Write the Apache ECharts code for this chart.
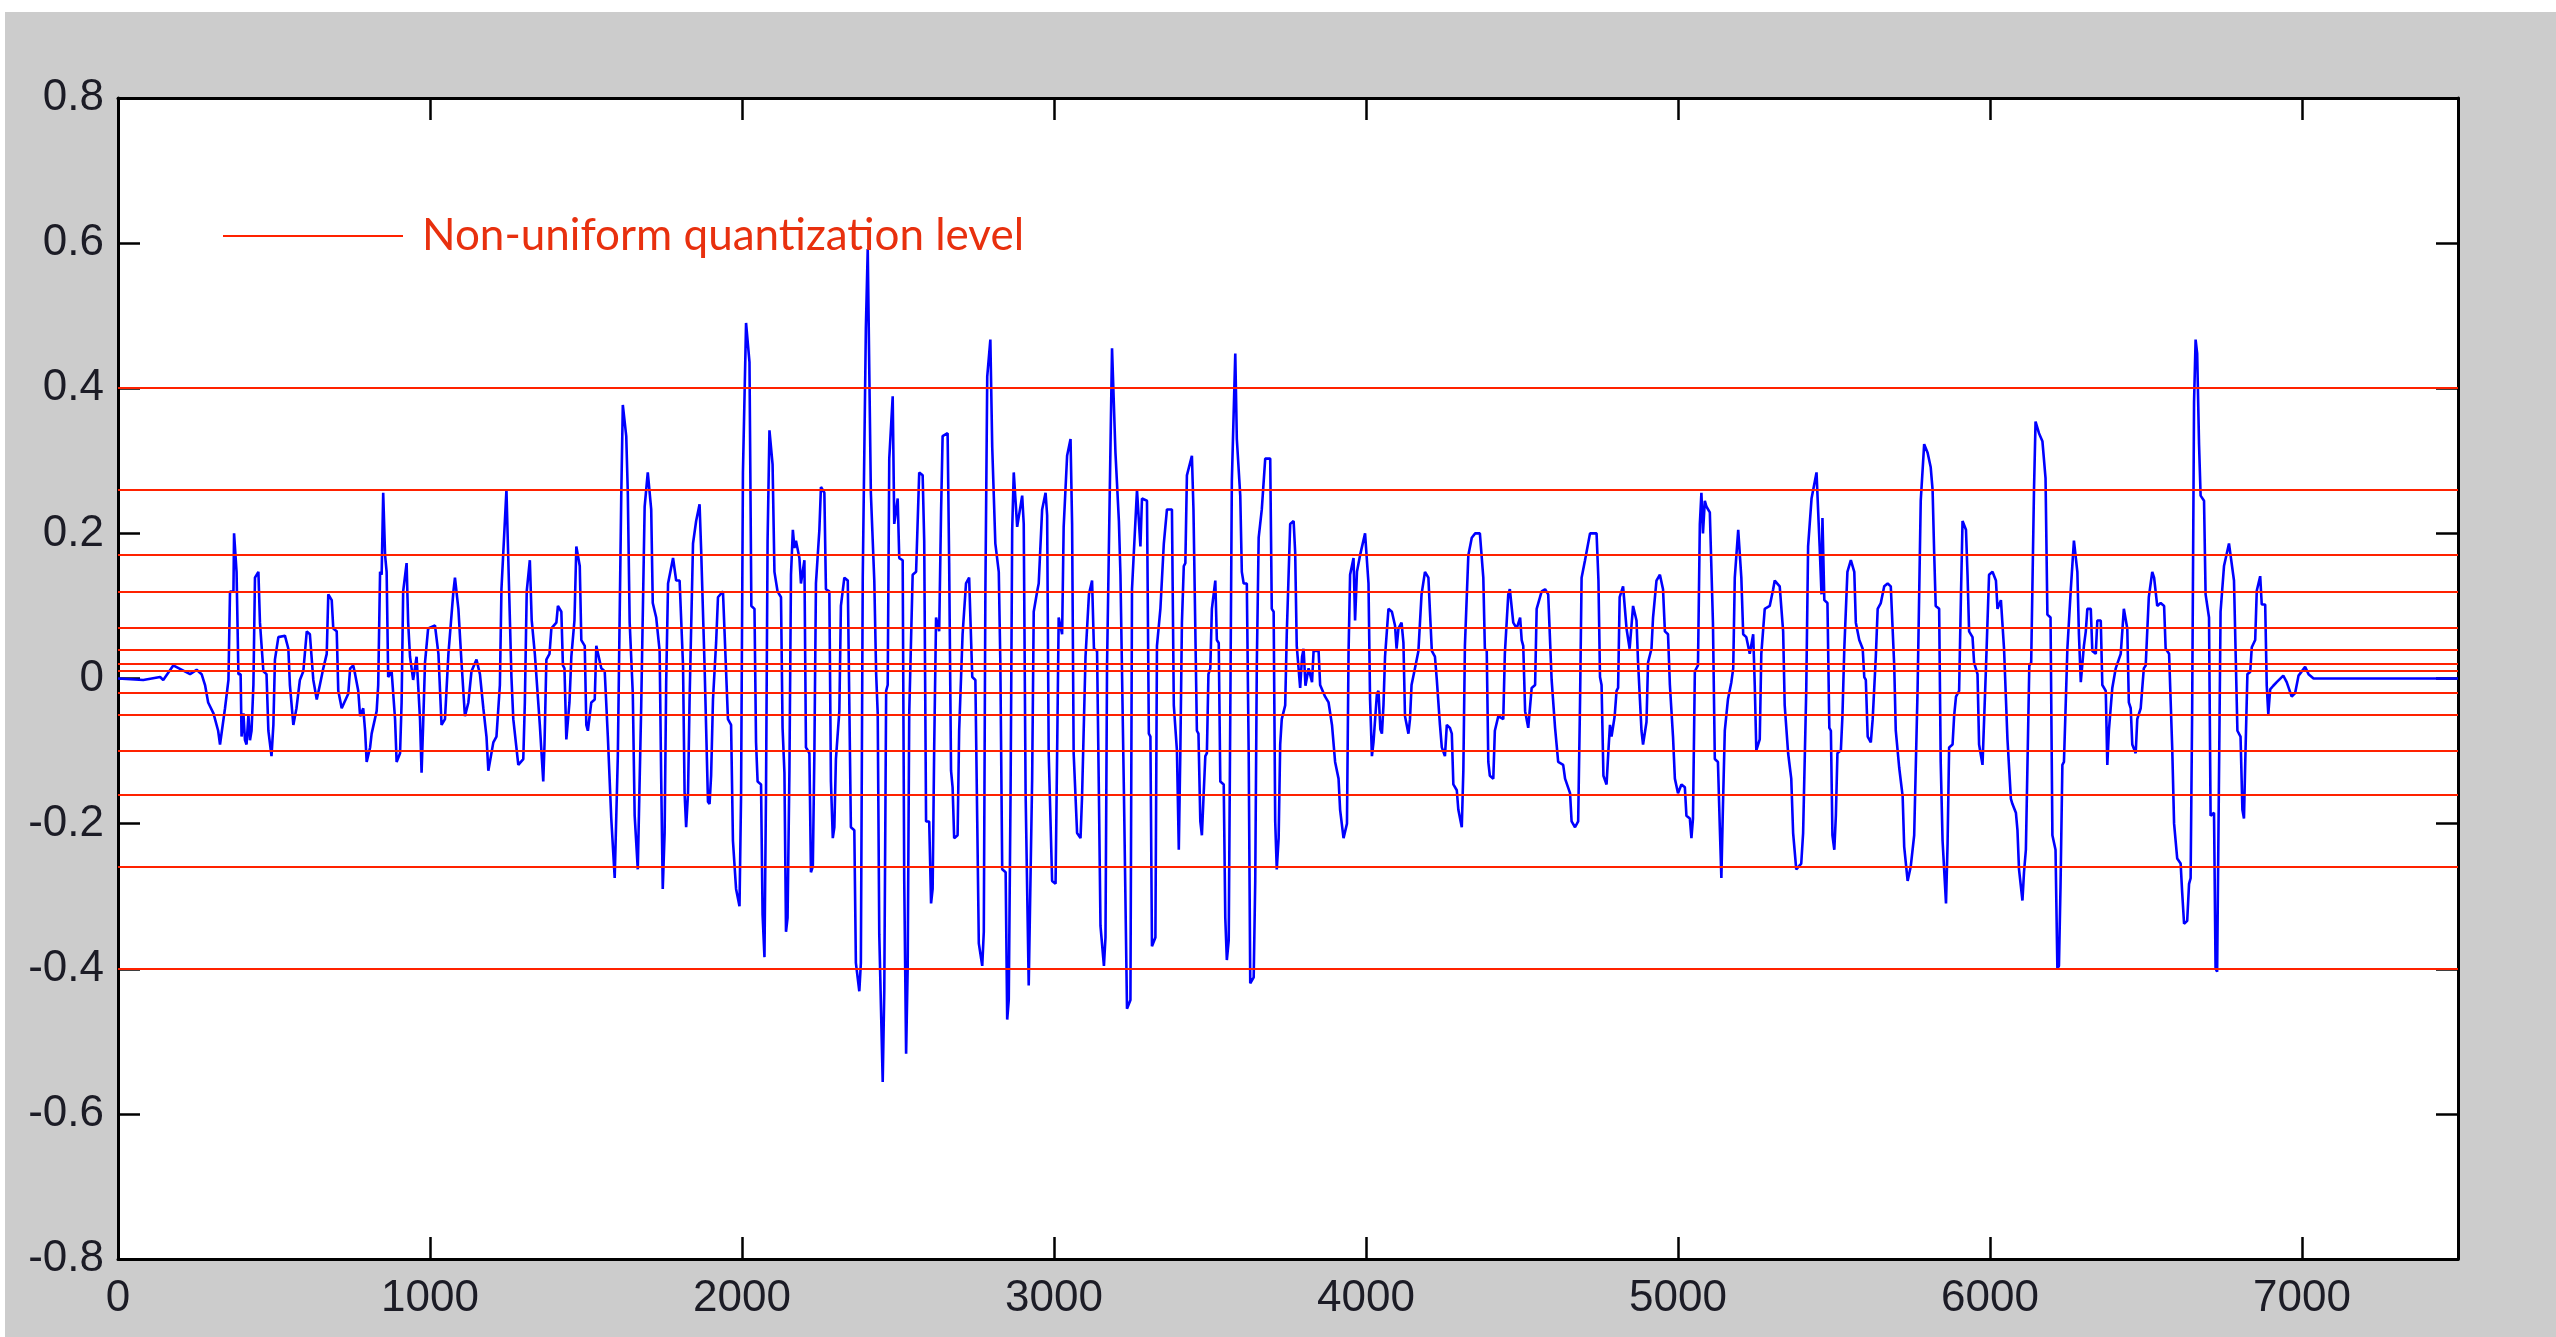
<!DOCTYPE html>
<html lang="en">
<head>
  <meta charset="UTF-8">
  <script src="https://cdn.jsdelivr.net/npm/echarts@6/dist/echarts.min.js"></script>
  <style>
    html, body { margin: 0; padding: 0; background: #ffffff; overflow: hidden; }
    #quantChart { position: absolute; left: 5px; top: 12px; width: 2551px; height: 1325px; }
  </style>
</head>
<body>
  <div id="quantChart"></div>

  <script type="text/javascript">

    // speech samples, [sample index, amplitude], turning points
    var waveOnset = [
      [0, 0], [81, -0.002], [135, 0.002], [145, -0.002], [177, 0.018], [231, 0.006], [252, 0.012],
      [268, 0.006], [279, -0.009], [289, -0.033], [306, -0.048], [321, -0.072], [327, -0.091],
      [343, -0.041], [354, -0.002], [359, 0.12], [370, 0.12], [372, 0.2], [380, 0.147], [386, 0.006],
      [393, 0.006], [396, -0.08], [402, -0.048], [407, -0.085], [412, -0.091], [418, -0.05], [423, -0.085],
      [428, -0.072], [434, -0.009], [439, 0.139], [450, 0.147], [455, 0.077], [466, 0.01], [476, 0.006],
      [482, -0.072], [492, -0.107], [498, -0.064], [503, 0.026], [514, 0.057], [535, 0.059], [546, 0.041],
      [551, -0.009], [562, -0.064], [572, -0.041], [583, -0.002], [594, 0.01], [605, 0.065], [615, 0.061],
      [626, -0.002], [637, -0.029], [647, -0.009], [658, 0.014], [669, 0.034], [674, 0.116],
      [685, 0.108], [690, 0.069], [701, 0.065], [706, -0.017], [717, -0.041], [738, -0.021], [744, 0.014],
      [754, 0.018], [760, 0.006], [770, -0.017], [776, -0.052], [786, -0.041], [792, -0.072], [797, -0.115],
      [808, -0.095], [813, -0.076], [829, -0.045], [834, -0.009], [840, 0.147], [845, 0.143], [850, 0.256],
      [856, 0.17], [861, 0.147], [866, 0.002], [877, 0.01], [882, 0.01], [888, -0.056], [893, -0.115],
      [904, -0.103], [909, -0.033], [914, 0.12], [925, 0.159], [930, 0.077], [936, 0.03], [946, -0.002],
      [957, 0.03], [968, -0.056], [973, -0.13], [978, -0.064], [984, 0.022], [994, 0.069], [1016, 0.073],
      [1027, 0.034], [1037, -0.064], [1048, -0.056], [1059, 0.034], [1075, 0.12], [1080, 0.139],
      [1091, 0.096], [1101, 0.022], [1112, -0.052], [1123, -0.033], [1133, 0.01], [1149, 0.026],
      [1160, 0.006], [1171, -0.041], [1181, -0.08], [1187, -0.127], [1203, -0.088], [1213, -0.08],
      [1224, -0.009], [1229, 0.123], [1245, 0.26], [1251, 0.163], [1261, 0.002], [1267, -0.056],
      [1283, -0.119], [1299, -0.111], [1304, -0.033], [1310, 0.12], [1320, 0.163], [1326, 0.08],
      [1336, 0.034], [1352, -0.064], [1363, -0.142], [1367, -0.091], [1373, 0.026], [1383, 0.034],
      [1389, 0.069], [1405, 0.077], [1410, 0.1], [1421, 0.092], [1426, 0.018], [1431, 0.014],
      [1437, -0.084], [1447, -0.033], [1453, 0.03], [1458, 0.03], [1463, 0.08], [1469, 0.182],
      [1480, 0.155], [1485, 0.053], [1496, 0.045], [1501, -0.064], [1506, -0.072], [1517, -0.033],
      [1528, -0.029], [1533, 0.045], [1549, 0.014], [1560, 0.01], [1570, -0.08]
    ];

    var waveLoud1 = [
      [1581, -0.193], [1592, -0.275], [1602, -0.107], [1613, 0.252], [1618, 0.377], [1629, 0.334],
      [1634, 0.256], [1640, 0.077], [1650, -0.021], [1656, -0.189], [1666, -0.263], [1677, -0.037],
      [1688, 0.237], [1698, 0.284], [1709, 0.233], [1714, 0.104], [1725, 0.084], [1736, 0.038],
      [1741, -0.138], [1746, -0.29], [1752, -0.213], [1757, -0.005], [1763, 0.131], [1779, 0.166],
      [1789, 0.135], [1800, 0.135], [1811, 0.018], [1816, -0.158], [1821, -0.205], [1827, -0.158],
      [1832, -0.029], [1843, 0.186], [1853, 0.217], [1864, 0.24], [1869, 0.178], [1880, 0.018],
      [1891, -0.17], [1896, -0.173], [1901, -0.134], [1907, -0.029], [1917, 0.049], [1923, 0.112],
      [1939, 0.12], [1944, 0.065], [1955, -0.056], [1965, -0.064], [1971, -0.224], [1981, -0.29],
      [1992, -0.314], [1997, -0.162], [2003, 0.284], [2013, 0.49], [2024, 0.436], [2030, 0.1],
      [2040, 0.096], [2045, -0.088], [2050, -0.142], [2061, -0.146], [2066, -0.326], [2072, -0.384],
      [2077, -0.154], [2082, 0.19], [2088, 0.342], [2098, 0.295], [2104, 0.147], [2114, 0.12],
      [2125, 0.112], [2130, -0.068], [2136, -0.13], [2141, -0.349], [2146, -0.33], [2152, -0.127],
      [2157, 0.143], [2163, 0.205], [2168, 0.18], [2173, 0.19], [2184, 0.166], [2189, 0.131],
      [2200, 0.163], [2205, -0.095], [2216, -0.103], [2221, -0.267], [2227, -0.259], [2232, -0.103],
      [2237, 0.131], [2248, 0.205], [2253, 0.264], [2264, 0.256], [2269, 0.123], [2280, 0.12],
      [2285, -0.142], [2291, -0.22], [2296, -0.205], [2301, -0.111], [2312, -0.045], [2317, 0.1],
      [2328, 0.139], [2339, 0.135], [2349, -0.205], [2360, -0.209], [2365, -0.392], [2376, -0.431],
      [2381, -0.392], [2387, 0.139], [2397, 0.483], [2403, 0.592], [2413, 0.256], [2424, 0.135],
      [2430, 0.006], [2435, -0.048], [2440, -0.353], [2451, -0.556], [2456, -0.431], [2462, -0.017],
      [2467, -0.009], [2472, 0.303], [2483, 0.389], [2488, 0.213], [2499, 0.248], [2504, 0.166],
      [2515, 0.163], [2520, -0.279], [2526, -0.517], [2531, -0.4], [2536, -0.048], [2547, 0.143],
      [2558, 0.147], [2568, 0.284], [2579, 0.28], [2584, 0.19], [2590, -0.197], [2600, -0.197],
      [2606, -0.31], [2611, -0.29], [2616, -0.095], [2622, 0.084], [2632, 0.065], [2638, 0.229],
      [2643, 0.334], [2659, 0.338], [2664, 0.159], [2670, -0.127], [2675, -0.15], [2680, -0.22],
      [2691, -0.216], [2696, -0.072], [2707, 0.061], [2718, 0.131], [2728, 0.139]
    ];

    var waveLoud2 = [
      [2738, 0.002], [2748, -0.002], [2754, -0.197], [2759, -0.365], [2770, -0.396], [2775, -0.349],
      [2780, 0.116], [2786, 0.416], [2796, 0.467], [2802, 0.319], [2812, 0.186], [2823, 0.147],
      [2828, 0.022], [2834, -0.263], [2845, -0.267], [2850, -0.47], [2855, -0.443], [2861, -0.146],
      [2866, 0.205], [2871, 0.284], [2882, 0.209], [2898, 0.252], [2903, 0.213], [2909, -0.158],
      [2919, -0.423], [2930, -0.138], [2935, 0.092], [2946, 0.12], [2951, 0.131], [2962, 0.233],
      [2973, 0.256], [2978, 0.225], [2983, -0.103], [2994, -0.279], [3005, -0.283], [3010, -0.103],
      [3015, 0.084], [3026, 0.061], [3031, 0.209], [3042, 0.307], [3053, 0.33], [3058, 0.213],
      [3063, -0.103], [3074, -0.213], [3085, -0.22], [3090, -0.162], [3101, 0.03], [3112, 0.116],
      [3122, 0.135], [3128, 0.041], [3138, 0.038], [3144, -0.162], [3149, -0.341], [3160, -0.396],
      [3165, -0.357], [3170, 0.018], [3181, 0.319], [3186, 0.455], [3197, 0.311], [3208, 0.217],
      [3213, 0.143], [3224, -0.154], [3234, -0.455], [3245, -0.443], [3250, 0.123], [3266, 0.26],
      [3277, 0.182], [3282, 0.248], [3298, 0.245], [3304, -0.076], [3309, -0.08], [3314, -0.369],
      [3325, -0.357], [3330, 0.045], [3341, 0.096], [3352, 0.186], [3362, 0.233], [3378, 0.233],
      [3384, -0.037], [3394, -0.099], [3400, -0.236], [3405, -0.099], [3410, 0.077], [3416, 0.155],
      [3421, 0.159], [3426, 0.28], [3442, 0.307], [3447, 0.233], [3453, 0.233], [3458, -0.072],
      [3463, -0.076], [3469, -0.197], [3474, -0.216], [3479, -0.166], [3485, -0.107], [3490, -0.103],
      [3495, 0.006], [3501, 0.014], [3506, 0.096], [3517, 0.135], [3522, 0.053], [3528, 0.049],
      [3533, -0.142], [3544, -0.146], [3549, -0.33], [3554, -0.388], [3560, -0.361], [3565, -0.048],
      [3570, 0.272], [3581, 0.448], [3586, 0.33], [3597, 0.252], [3602, 0.147], [3608, 0.131],
      [3618, 0.131], [3624, -0.103], [3629, -0.42], [3640, -0.412], [3645, -0.279], [3650, 0.018],
      [3656, 0.194], [3666, 0.233], [3677, 0.303], [3693, 0.303], [3698, 0.096], [3704, 0.092],
      [3709, -0.197], [3714, -0.263], [3720, -0.22], [3725, -0.091], [3730, -0.056], [3741, -0.037],
      [3746, 0.061], [3757, 0.213], [3768, 0.217], [3773, 0.174], [3778, 0.045]
    ];

    var waveMid = [
      [3789, -0.013], [3795, 0.03], [3800, 0.041], [3806, -0.01], [3816, 0.014], [3827, -0.005],
      [3832, 0.038], [3848, 0.038], [3853, -0.009], [3869, -0.025], [3880, -0.033], [3891, -0.064],
      [3901, -0.115], [3912, -0.138], [3917, -0.181], [3928, -0.22], [3939, -0.2], [3944, 0.034],
      [3949, 0.143], [3960, 0.166], [3965, 0.08], [3971, 0.147], [3981, 0.17], [3997, 0.2],
      [4008, 0.131], [4013, -0.029], [4019, -0.107], [4024, -0.088], [4035, -0.021], [4040, -0.017],
      [4046, -0.07], [4051, -0.076], [4056, -0.037], [4061, 0.03], [4072, 0.096], [4083, 0.092],
      [4093, 0.073], [4098, 0.041], [4104, 0.069], [4114, 0.077], [4120, 0.049], [4125, -0.052],
      [4136, -0.076], [4141, -0.056], [4146, -0.009], [4157, 0.014], [4168, 0.038], [4178, 0.116],
      [4189, 0.147], [4200, 0.139], [4205, 0.092], [4211, 0.038], [4221, 0.03], [4227, -0.002],
      [4237, -0.064], [4243, -0.095], [4253, -0.107], [4259, -0.064], [4269, -0.068], [4275, -0.076],
      [4280, -0.146], [4291, -0.154], [4296, -0.181], [4307, -0.205], [4312, -0.127], [4317, 0.045],
      [4328, 0.17], [4339, 0.194], [4350, 0.2], [4365, 0.2], [4376, 0.139], [4381, 0.041],
      [4387, 0.038], [4392, -0.115], [4397, -0.134], [4408, -0.138], [4413, -0.072], [4424, -0.052],
      [4440, -0.056], [4445, 0.034], [4456, 0.116], [4461, 0.123], [4472, 0.077], [4483, 0.069],
      [4494, 0.084], [4499, 0.053], [4504, 0.045], [4510, -0.045], [4520, -0.068], [4531, -0.013],
      [4542, -0.009], [4547, 0.096], [4563, 0.12], [4574, 0.123], [4584, 0.116], [4595, -0.002],
      [4606, -0.068], [4616, -0.115], [4632, -0.119], [4638, -0.138], [4654, -0.158], [4659, -0.197],
      [4670, -0.205], [4680, -0.197], [4686, -0.033], [4691, 0.139], [4702, 0.163], [4718, 0.2],
      [4739, 0.2], [4745, 0.135], [4750, 0.002], [4755, -0.009], [4761, -0.134], [4771, -0.146],
      [4777, -0.099], [4782, -0.064], [4787, -0.08], [4797, -0.052], [4803, -0.017], [4808, -0.013],
      [4813, 0.112], [4824, 0.127], [4835, 0.069], [4845, 0.041], [4856, 0.1], [4867, 0.08],
      [4872, 0.022], [4883, -0.072], [4888, -0.091], [4899, -0.06], [4904, 0.022], [4915, 0.041],
      [4920, 0.084], [4931, 0.135], [4942, 0.143], [4952, 0.123], [4958, 0.065], [4968, 0.061],
      [4974, -0.009], [4984, -0.08], [4990, -0.138], [5000, -0.158], [5011, -0.146], [5022, -0.15],
      [5027, -0.189], [5038, -0.193], [5043, -0.22], [5048, -0.193], [5054, 0.01], [5064, 0.018],
      [5070, 0.213], [5075, 0.256], [5080, 0.2], [5086, 0.245], [5091, 0.237], [5102, 0.229],
      [5112, 0.077], [5118, -0.111], [5128, -0.115], [5134, -0.205], [5139, -0.275], [5144, -0.177],
      [5150, -0.072], [5160, -0.029], [5171, -0.005], [5177, 0.014], [5182, 0.139], [5193, 0.205],
      [5203, 0.139], [5209, 0.061], [5219, 0.057], [5230, 0.034], [5241, 0.061], [5246, -0.009],
      [5251, -0.099], [5262, -0.084], [5267, 0.034], [5278, 0.096], [5294, 0.1], [5305, 0.123],
      [5310, 0.135], [5326, 0.127], [5337, 0.065], [5342, -0.037], [5353, -0.103], [5363, -0.138],
      [5369, -0.213], [5379, -0.263], [5395, -0.255], [5401, -0.213], [5411, -0.017], [5417, 0.182],
      [5428, 0.248], [5444, 0.284], [5454, 0.182], [5460, 0.116]
    ];

    var waveLate = [
      [5463, 0.221], [5469, 0.108], [5479, 0.104], [5485, -0.068], [5490, -0.072], [5495, -0.216],
      [5501, -0.236], [5506, -0.189], [5511, -0.103], [5522, -0.099], [5527, -0.052], [5533, 0.041],
      [5543, 0.147], [5554, 0.163], [5565, 0.147], [5570, 0.077], [5581, 0.053], [5592, 0.041],
      [5597, 0.002], [5602, -0.002], [5608, -0.08], [5618, -0.088], [5624, -0.056], [5634, 0.03],
      [5640, 0.096], [5650, 0.104], [5661, 0.127], [5672, 0.131], [5682, 0.127], [5693, 0.018],
      [5698, -0.072], [5709, -0.123], [5720, -0.162], [5725, -0.232], [5736, -0.279], [5746, -0.259],
      [5757, -0.216], [5768, -0.013], [5778, 0.245], [5789, 0.323], [5800, 0.311], [5810, 0.291],
      [5816, 0.26], [5821, 0.174], [5826, 0.1], [5837, 0.096], [5842, -0.115], [5848, -0.224],
      [5859, -0.31], [5864, -0.228], [5869, -0.095], [5880, -0.091], [5885, -0.052], [5891, -0.025],
      [5901, -0.017], [5907, 0.116], [5912, 0.217], [5923, 0.205], [5928, 0.143], [5933, 0.065],
      [5944, 0.057], [5949, 0.022], [5960, 0.006], [5965, -0.091], [5976, -0.119], [5987, 0.014],
      [5992, 0.014], [5997, 0.143], [6008, 0.147], [6019, 0.135], [6024, 0.096], [6035, 0.108],
      [6045, 0.041], [6056, -0.084], [6067, -0.166], [6072, -0.173], [6083, -0.185], [6088, -0.209],
      [6093, -0.263], [6104, -0.306], [6109, -0.267], [6115, -0.236], [6126, 0.018], [6132, 0.022],
      [6141, 0.26], [6146, 0.354], [6157, 0.338], [6168, 0.327], [6178, 0.276], [6184, 0.088],
      [6194, 0.084], [6200, -0.216], [6210, -0.236], [6216, -0.4], [6221, -0.396], [6226, -0.287],
      [6232, -0.119], [6237, -0.115], [6242, -0.045], [6248, 0.041], [6259, 0.123], [6269, 0.19],
      [6280, 0.147], [6285, 0.061], [6291, -0.005], [6301, 0.045], [6307, 0.065], [6312, 0.096],
      [6323, 0.096], [6328, 0.038], [6339, 0.034], [6344, 0.08], [6355, 0.08], [6360, -0.009],
      [6371, -0.017], [6376, -0.119], [6381, -0.072], [6392, -0.013], [6403, 0.014], [6419, 0.034],
      [6429, 0.096], [6440, 0.069], [6445, -0.033], [6451, -0.041], [6456, -0.091], [6467, -0.103],
      [6472, -0.056], [6483, -0.041], [6493, 0.014], [6499, 0.018], [6509, 0.112], [6520, 0.147],
      [6526, 0.139], [6536, 0.1], [6547, 0.104], [6558, 0.1], [6563, 0.041], [6574, 0.034],
      [6584, -0.095], [6590, -0.2], [6600, -0.248], [6611, -0.255], [6616, -0.295], [6622, -0.338],
      [6632, -0.334], [6638, -0.283], [6643, -0.275], [6648, -0.041], [6654, 0.381], [6659, 0.467],
      [6664, 0.448], [6670, 0.323], [6675, 0.252], [6686, 0.245], [6691, 0.116], [6702, 0.084],
      [6707, -0.189], [6718, -0.185], [6723, -0.4], [6728, -0.404], [6739, 0.092], [6750, 0.155],
      [6766, 0.186], [6771, 0.17], [6782, 0.135], [6793, -0.072], [6803, -0.08], [6809, -0.181],
      [6814, -0.193], [6819, -0.099], [6825, 0.006]
    ];

    var waveTail = [
      [6834, 0.009], [6839, 0.043], [6850, 0.053], [6855, 0.121], [6866, 0.141], [6871, 0.102],
      [6882, 0.102], [6887, -0.01], [6892, -0.049], [6898, -0.015], [6908, -0.01], [6919, -0.005],
      [6940, 0.004], [6951, -0.005], [6967, -0.025], [6978, -0.02], [6989, 0.004], [7010, 0.016],
      [7021, 0.006], [7037, 0], [7500, 0]
    ];

    // the non-uniform quantizer levels (red lines)
    var levels = [0.4, 0.258, 0.173, 0.119, 0.071, 0.045, 0.023, 0.006,
                  -0.021, -0.05, -0.098, -0.16, -0.255, -0.4];

    var levelName = 'Non-uniform quantization level';

    var wave = [].concat(waveOnset, waveLoud1, waveLoud2, waveMid, waveLate, waveTail);

    var tickFont = {
      fontSize: 44,
      fontFamily: 'Liberation Sans, Arial, sans-serif',
      color: '#1c1c26'
    };
    var frameLine = { show: true, onZero: false, lineStyle: { color: '#000000', width: 3 } };
    var innerTick = { show: true, inside: true, length: 22, lineStyle: { color: '#000000', width: 2.5 } };

    function createQuantChart() {
        const chart = echarts.init(document.getElementById('quantChart'));

        let option = {
            animation: false,
            backgroundColor: '#cccccc',
            grid: {
                left: 113,
                top: 86,
                right: 98,
                bottom: 78,
                show: true,
                backgroundColor: '#ffffff',
                borderWidth: 0
            },
            legend: {
                data: [levelName],
                left: 213,
                top: 197,
                icon: 'rect',
                itemWidth: 180,
                itemHeight: 2,
                selectedMode: false,
                textStyle: {
                    fontSize: 44,
                    fontFamily: 'Lato, sans-serif',
                    color: '#e8300e',
                    padding: [0, 0, 0, 14]
                }
            },
            xAxis: [
                {
                    type: 'value', min: 0, max: 7500, interval: 1000, position: 'bottom',
                    axisLine: frameLine, axisTick: innerTick, splitLine: { show: false },
                    axisLabel: Object.assign({
                        margin: 18,
                        showMaxLabel: false,
                        formatter: function (v) { return String(v); }
                    }, tickFont)
                },
                {
                    type: 'value', min: 0, max: 7500, interval: 1000, position: 'top',
                    axisLine: frameLine, axisTick: innerTick, splitLine: { show: false },
                    axisLabel: { show: false }
                }
            ],
            yAxis: [
                {
                    type: 'value', min: -0.8, max: 0.8, interval: 0.2, position: 'left',
                    axisLine: frameLine, axisTick: innerTick, splitLine: { show: false },
                    axisLabel: Object.assign({
                        margin: 14,
                        formatter: function (v) { return Math.abs(v) < 1e-9 ? '0' : v.toFixed(1); }
                    }, tickFont)
                },
                {
                    type: 'value', min: -0.8, max: 0.8, interval: 0.2, position: 'right',
                    axisLine: frameLine, axisTick: innerTick, splitLine: { show: false },
                    axisLabel: { show: false }
                }
            ],
            series: [
                {
                    name: 'signal',
                    type: 'line',
                    data: wave,
                    showSymbol: false,
                    symbol: 'none',
                    z: 2,
                    lineStyle: { color: '#0000ff', width: 2.6 },
                    itemStyle: { color: '#0000ff' }
                },
                {
                    name: levelName,
                    type: 'line',
                    data: [],
                    z: 3,
                    itemStyle: { color: '#ff2200' },
                    lineStyle: { color: '#ff2200', width: 2.2 },
                    markLine: {
                        silent: true,
                        symbol: ['none', 'none'],
                        label: { show: false },
                        lineStyle: { color: '#ff2200', width: 2.2, type: 'solid' },
                        data: levels.map(function (v) { return { yAxis: v }; })
                    }
                }
            ]
        };

        chart.setOption(option);
    }
    createQuantChart();
  </script>
</body>
</html>
